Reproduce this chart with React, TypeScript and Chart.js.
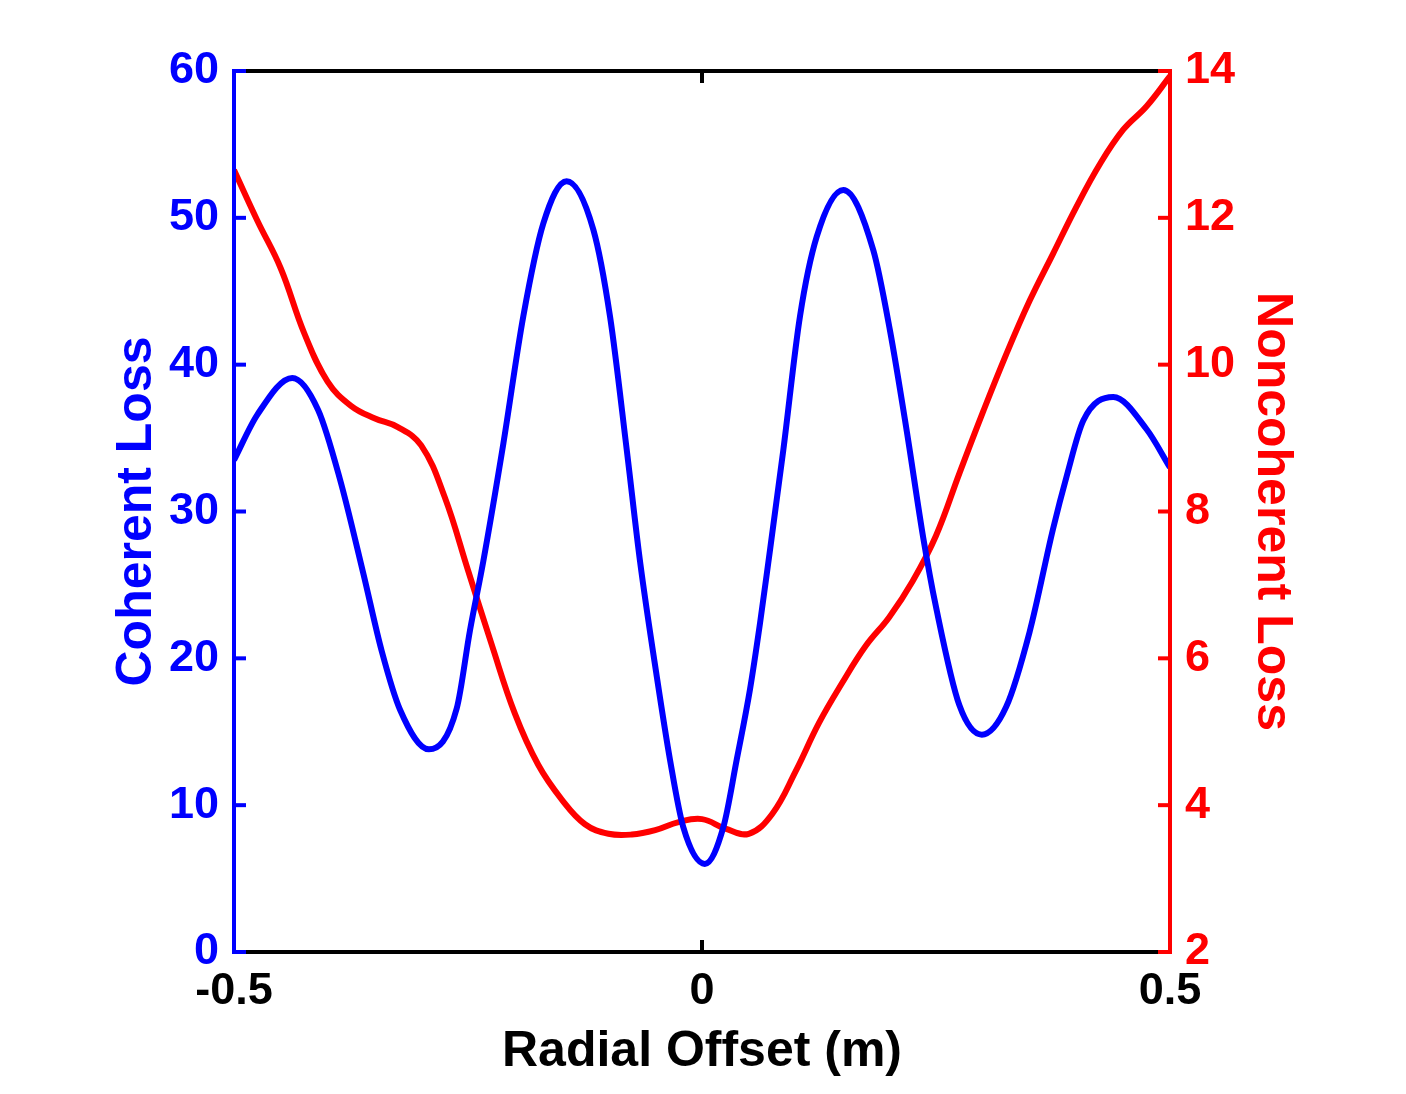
import React, { useEffect, useRef } from "react";
import { Chart, registerables } from "chart.js";

Chart.register(...registerables);

// Coherent loss (left axis): radial offset (m) and value
const coherentOffsets = [
  -0.5, -0.475, -0.4377, -0.41, -0.3868, -0.3619, -0.3422, -0.3226, -0.2917,
  -0.262, -0.2479, -0.2337, -0.2123, -0.1909, -0.1696, -0.1446, -0.1161,
  -0.0983, -0.0804, -0.0662, -0.0484, -0.0342, -0.02, 0.003, 0.0228, 0.0371,
  0.0513, 0.062, 0.0708, 0.0869, 0.1047, 0.1225, 0.151, 0.183, 0.2009, 0.2187,
  0.2364, 0.25, 0.275, 0.299, 0.325, 0.35, 0.375, 0.3896, 0.4074, 0.4394,
  0.475, 0.5,
];
const coherentLoss = [
  33.5, 36.6, 39.1, 36.9, 32.2, 25.8, 20.5, 16.5, 13.8,
  16.6, 21.9, 26.6, 34.6, 43.3, 49.6, 52.5, 49.2,
  43.3, 34.2, 26.6, 18.8, 13.1, 8.5, 6.0, 8.5, 13.1,
  17.9, 22.4, 26.5, 34.2, 43.3, 48.7, 51.9, 47.8, 42.3, 35.5,
  28.2, 23.5, 16.8, 14.8, 16.7, 21.8, 28.8, 32.4, 36.2, 37.8,
  35.6, 33.0,
];

// Noncoherent loss (right axis)
const noncoherentOffsets = [
  -0.5, -0.475, -0.45, -0.425, -0.4, -0.375, -0.35, -0.325, -0.3, -0.275,
  -0.25, -0.225, -0.2, -0.175, -0.15, -0.125, -0.1, -0.075, -0.05, -0.025,
  0, 0.025, 0.05, 0.075, 0.1, 0.125, 0.15, 0.175, 0.2, 0.225,
  0.25, 0.275, 0.3, 0.325, 0.35, 0.375, 0.4, 0.425, 0.45, 0.475, 0.5,
];
const noncoherentLoss = [
  12.65, 11.96, 11.31, 10.43, 9.77, 9.44, 9.27, 9.15, 8.9, 8.2,
  7.2, 6.2, 5.25, 4.55, 4.08, 3.74, 3.61, 3.6, 3.66, 3.77,
  3.81, 3.68, 3.61, 3.88, 4.46, 5.12, 5.67, 6.17, 6.56, 7.05,
  7.67, 8.52, 9.35, 10.14, 10.87, 11.51, 12.15, 12.73, 13.2, 13.52, 13.93,
];

const xTicks = [-0.5, 0, 0.5];
const leftTicks = [0, 10, 20, 30, 40, 50, 60];
const rightTicks = [2, 4, 6, 8, 10, 12, 14];

const BLUE = "#0000ff";
const RED = "#ff0000";
const FONT = "'Liberation Sans', Arial, sans-serif";

const framePlugin = {
  id: "frame",
  afterDatasetsDraw(chart: any) {
    const { ctx, chartArea: a, scales } = chart;
    const tl = 12;
    const line = (x1: number, y1: number, x2: number, y2: number) => {
      ctx.beginPath();
      ctx.moveTo(x1, y1);
      ctx.lineTo(x2, y2);
      ctx.stroke();
    };
    ctx.save();
    ctx.lineWidth = 4;
    ctx.lineCap = "butt";
    ctx.strokeStyle = "#000";
    line(a.left, a.top, a.right, a.top);
    line(a.left, a.bottom, a.right, a.bottom);
    xTicks.forEach((v) => {
      const px = scales.x.getPixelForValue(v);
      line(px, a.bottom, px, a.bottom - tl);
      line(px, a.top, px, a.top + tl);
    });
    ctx.strokeStyle = BLUE;
    line(a.left, a.top - 2, a.left, a.bottom + 2);
    leftTicks.forEach((v) => {
      const py = scales.y.getPixelForValue(v);
      line(a.left, py, a.left + tl, py);
    });
    ctx.strokeStyle = RED;
    line(a.right, a.top - 2, a.right, a.bottom + 2);
    rightTicks.forEach((v) => {
      const py = scales.y1.getPixelForValue(v);
      line(a.right, py, a.right - tl, py);
    });
    ctx.restore();
  },
};

export default function App() {
  const ref = useRef<HTMLCanvasElement | null>(null);

  useEffect(() => {
    if (!ref.current) return;
    const tickFont = { family: FONT, size: 45, weight: "bold" as const };
    const titleFont = { family: FONT, size: 50, weight: "bold" as const };
    const chart = new Chart(ref.current, {
      type: "line",
      data: {
        datasets: [
          {
            label: "Coherent Loss",
            data: coherentOffsets.map((x, i) => ({ x, y: coherentLoss[i] })),
            borderColor: BLUE,
            borderWidth: 6,
            pointRadius: 0,
            cubicInterpolationMode: "monotone",
            yAxisID: "y",
            fill: false,
          },
          {
            label: "Noncoherent Loss",
            data: noncoherentOffsets.map((x, i) => ({ x, y: noncoherentLoss[i] })),
            borderColor: RED,
            borderWidth: 6,
            pointRadius: 0,
            tension: 0.4,
            yAxisID: "y1",
            fill: false,
          },
        ],
      },
      options: {
        animation: false,
        responsive: false,
        devicePixelRatio: 1,
        layout: { padding: { top: 71, left: 0, right: 0, bottom: 0 } },
        plugins: {
          legend: { display: false },
          tooltip: { enabled: false },
        },
        scales: {
          x: {
            type: "linear",
            position: "bottom",
            min: -0.5,
            max: 0.5,
            afterBuildTicks: (s: any) => {
              s.ticks = xTicks.map((v) => ({ value: v }));
            },
            afterFit: (s: any) => {
              s.height = 142;
            },
            grid: { display: false, drawTicks: false },
            border: { display: false },
            ticks: {
              color: "#000",
              font: tickFont,
              padding: 13,
              maxRotation: 0,
              callback: (v: any) => String(v),
            },
            title: {
              display: true,
              text: "Radial Offset (m)",
              color: "#000",
              font: titleFont,
              padding: { top: 0, bottom: 12 },
            },
          },
          y: {
            type: "linear",
            position: "left",
            min: 0,
            max: 60,
            afterBuildTicks: (s: any) => {
              s.ticks = leftTicks.map((v) => ({ value: v }));
            },
            afterFit: (s: any) => {
              s.width = 234;
            },
            grid: { display: false, drawTicks: false },
            border: { display: false },
            ticks: { color: BLUE, font: tickFont, padding: 15 },
            title: {
              display: true,
              text: "Coherent Loss",
              color: BLUE,
              font: titleFont,
              padding: { top: 107, bottom: 0 },
            },
          },
          y1: {
            type: "linear",
            position: "right",
            min: 2,
            max: 14,
            afterBuildTicks: (s: any) => {
              s.ticks = rightTicks.map((v) => ({ value: v }));
            },
            afterFit: (s: any) => {
              s.width = 236;
            },
            grid: { display: false, drawTicks: false },
            border: { display: false },
            ticks: { color: RED, font: tickFont, padding: 15 },
            title: {
              display: true,
              text: "Noncoherent Loss",
              color: RED,
              font: titleFont,
              padding: { top: 104, bottom: 0 },
            },
          },
        },
      },
      plugins: [framePlugin],
    } as any);
    return () => chart.destroy();
  }, []);

  return (
    <div style={{ position: "absolute", left: 0, top: 0, width: 1406, height: 1094, background: "#fff" }}>
      <canvas ref={ref} width={1406} height={1094} style={{ width: 1406, height: 1094 }} />
    </div>
  );
}
